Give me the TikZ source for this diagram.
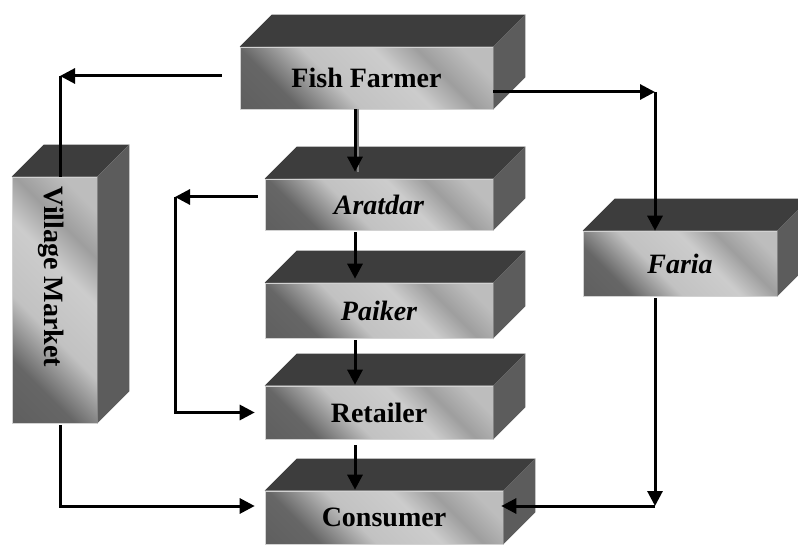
\documentclass[tikz,border=0pt]{standalone}
\usepackage{fontspec}
\setmainfont{Liberation Serif}
\usepackage{tikz}
\usetikzlibrary{positioning}
\usetikzlibrary{calc}
\usetikzlibrary{arrows.meta,shapes,backgrounds}

\definecolor{topface}{gray}{0.24}
\definecolor{sideface}{gray}{0.36}

\pgfdeclarehorizontalshading{slabshade}{100bp}{color(0bp)=(black!66);
  color(28bp)=(black!60); color(42bp)=(black!24); color(58bp)=(black!20);
  color(68bp)=(black!38); color(78bp)=(black!26); color(100bp)=(black!26)}

\tikzset{
  box/.style={rectangle, draw=gray!35, line width=0.6pt, inner sep=0pt,
    shading=slabshade, shading angle=45,
    font=\fontsize{28}{30}\selectfont\bfseries},
  ibox/.style={box, font=\fontsize{28}{30}\selectfont\bfseries\itshape},
  line/.style={line width=3pt},
  arrow/.style={line, -{Triangle[length=15pt,width=15pt]}}
}

% top and side of a slab
\newcommand{\slab}[1]{%
  \fill[topface] (#1.north west) -- ++(32,-32) -- ($(#1.north east)+(32,-32)$)
    -- (#1.north east) -- cycle;
  \fill[sideface] (#1.north east) -- ++(32,-32) -- ($(#1.south east)+(32,-32)$)
    -- (#1.south east) -- cycle;}

\begin{document}
\begin{tikzpicture}[x=1pt,y=-1pt]
\useasboundingbox (0,0) rectangle (798,545);

% slabs
\node[box, minimum width=253, minimum height=62] (farmer) at (366.5,78) {Fish Farmer};
\node[box, minimum width=85, minimum height=246] (village) at (54.5,300) {};
\node[rotate=-90, font=\fontsize{28}{30}\selectfont\bfseries] (vmlabel)
  at ($(village)+(-3,-23)$) {Village Market};
\node[ibox, minimum width=228, minimum height=51] (aratdar) at (379,204.5) {Aratdar};
\node[ibox, minimum width=228, minimum height=55] (paiker) at (379,310.5) {Paiker};
\node[box, minimum width=228, minimum height=53] (retailer) at (379,412.5) {Retailer};
\node[box, minimum width=238, minimum height=53] (consumer) at (384,517.5) {Consumer};
\node[ibox, minimum width=194, minimum height=65] (faria) at (680,263.5) {Faria};

\foreach \n in {farmer,village,aratdar,paiker,retailer,consumer,faria}
  \slab{\n};

% corners of the side routes
\coordinate (vmcorner) at (60,76);
\coordinate (facorner) at (655,92);
\coordinate (arcorner) at (175,197);
\coordinate (cocorner) at (655,506);

% fish farmer
\draw[arrow] ([xshift=-18pt]farmer.west |- vmcorner) -- (vmcorner);
\draw[line] (vmcorner) -- (village.north -| vmcorner);
\draw[arrow] ([yshift=-14pt]farmer.east) -- (facorner);
\draw[arrow] (facorner) -- (faria.north -| facorner);
\draw[gray, line width=2pt] ([xshift=3pt]farmer.south -| 355,0) -- ([xshift=3pt,yshift=7pt]aratdar.north -| 355,0);
\draw[arrow, shorten >=7pt] (farmer.south -| 355,0) -- (aratdar.north -| 355,0);

% main column
\draw[arrow, shorten >=4pt] ([yshift=-2pt]aratdar.south -| 355,0) -- (paiker.north -| 355,0);
\draw[arrow, shorten >=1pt] ([yshift=-2pt]paiker.south -| 355,0) -- (retailer.north -| 355,0);
\draw[arrow, shorten >=1pt] ([yshift=-6pt]retailer.south -| 355,0) -- (consumer.north -| 355,0);

% by-passes
\draw[arrow] ([xshift=-7pt]aratdar.west |- arcorner) -- (arcorner);
\draw[arrow, shorten >=10pt] (arcorner) |- (retailer.west);
\draw[arrow, shorten >=10pt] ([yshift=-2pt]village.south -| vmcorner) |- (consumer.west |- cocorner);
\draw[arrow] ([yshift=-2pt]faria.south -| cocorner) -- (cocorner);
\draw[arrow, shorten >=-2pt] (cocorner) -- (consumer.east |- cocorner);

\end{tikzpicture}
\end{document}
